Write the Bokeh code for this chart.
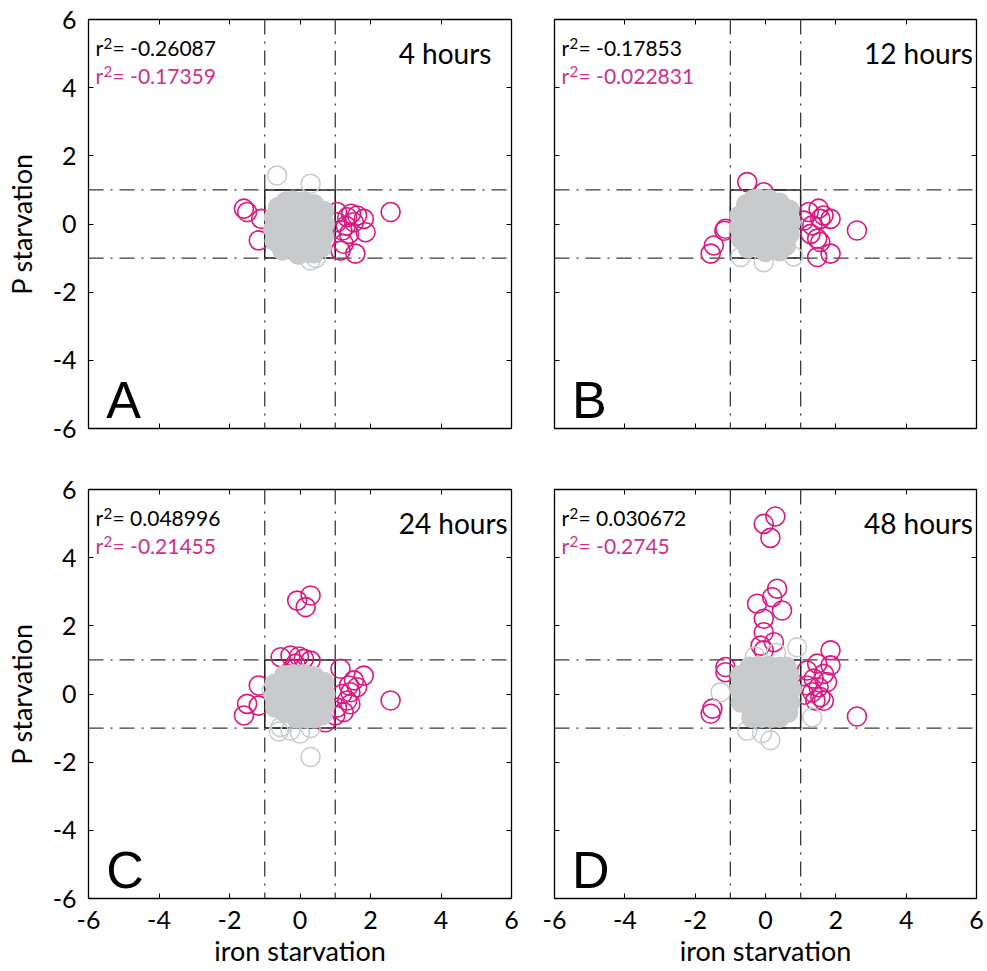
from bokeh.plotting import figure
from bokeh.layouts import column, row
from bokeh.models import LinearAxis, Span, Label, FixedTicker, Range1d
from bokeh.embed import file_html
from bokeh.resources import INLINE

FONT = "Lato"
MAGENTA = "#DA1881"
MAGENTA_TXT = "#C8338C"
GRAY = "#C8CACC"

TICKS = [-6, -4, -2, 0, 2, 4, 6]
LIM = 6
THRESH = 1

panel_letters = ["A", "B", "C", "D"]
hour_labels = ["4 hours", "12 hours", "24 hours", "48 hours"]
r2_all = ["-0.26087", "-0.17853", "0.048996", "0.030672"]
r2_out = ["-0.17359", "-0.022831", "-0.21455", "-0.2745"]

# ---- Panel A (4 h) ----
a_mag_x = [-1.59, -1.50, -1.10, -1.17, 1.05, 1.05, 1.20, 1.30, 1.34, 1.45, 1.53, 1.62, 1.81, 1.86, 1.39, 1.24, 1.15, 1.57, 2.57]
a_mag_y = [0.45, 0.35, 0.15, -0.48, 0.35, 0.05, -0.19, -0.05, 0.20, 0.30, 0.05, 0.25, 0.15, -0.24, -0.29, -0.58, -0.78, -0.87, 0.35]
a_core_x = [-0.74, -0.76, -0.72, -0.62, -0.50, -0.45, -0.45, -0.45, -0.40, -0.20, -0.15, -0.15, -0.15, -0.10, -0.05, 0.10, 0.15, 0.15, 0.15, 0.20, 0.40, 0.45, 0.45, 0.45, 0.40, 0.68, 0.70, 0.68, 0.62]
a_core_y = [0.20, -0.15, -0.50, 0.50, -0.78, 0.38, 0.00, -0.35, 0.66, 0.68, 0.30, -0.05, -0.40, -0.78, -0.90, 0.66, 0.30, -0.05, -0.40, -0.84, 0.58, 0.20, -0.15, -0.50, -0.86, 0.38, 0.00, -0.35, -0.68]
a_gout_x = [-0.65, 0.30, 0.30, 0.45]
a_gout_y = [1.42, 1.18, -1.07, -1.00]

# ---- Panel B (12 h) ----
b_mag_x = [-0.52, -0.05, -1.14, -1.17, -1.47, -1.56, 1.09, 1.23, 1.51, 1.65, 1.85, 1.56, 1.33, 1.28, 1.47, 1.56, 1.47, 1.85, 2.60]
b_mag_y = [1.23, 0.93, -0.14, -0.20, -0.63, -0.87, 0.10, 0.35, 0.45, 0.25, 0.15, 0.15, -0.04, -0.29, -0.43, -0.53, -0.97, -0.87, -0.19]
b_core_x = [-0.74, -0.76, -0.70, -0.55, -0.50, -0.45, -0.45, -0.42, -0.35, -0.20, -0.15, -0.15, -0.12, -0.10, 0.00, 0.10, 0.15, 0.15, 0.18, 0.20, 0.40, 0.45, 0.45, 0.45, 0.40, 0.68, 0.72, 0.68, 0.58]
b_core_y = [0.25, -0.10, -0.45, 0.58, -0.72, 0.42, 0.05, -0.30, 0.72, 0.74, 0.35, 0.00, -0.35, -0.68, -0.82, 0.72, 0.35, 0.00, -0.35, -0.75, 0.62, 0.25, -0.10, -0.45, -0.80, 0.42, 0.05, -0.30, -0.64]
b_gout_x = [-0.05, -0.71, 0.80]
b_gout_y = [-1.12, -0.97, -0.95]

# ---- Panel C (24 h) ----
c_mag_x = [-0.08, 0.30, 0.16, -0.55, -0.27, -0.03, 0.11, 0.30, -0.13, -0.22, -1.17, -1.50, -1.59, -1.17, 1.15, 1.81, 1.53, 1.39, 1.62, 1.43, 1.20, 1.34, 1.43, 1.24, 1.00, 1.05, 0.72, 2.57]
c_mag_y = [2.74, 2.89, 2.55, 1.08, 1.13, 1.10, 1.03, 0.98, 0.89, 0.74, 0.25, -0.29, -0.63, -0.34, 0.74, 0.54, 0.40, 0.25, 0.20, 0.05, 0.00, -0.19, -0.30, -0.53, -0.63, -0.40, -0.83, -0.19]
c_core_x = [-0.72, -0.74, -0.70, -0.45, -0.45, -0.45, -0.42, -0.20, -0.15, -0.15, -0.12, -0.10, 0.10, 0.15, 0.15, 0.18, 0.20, 0.40, 0.45, 0.45, 0.45, 0.40, 0.68, 0.72, 0.70, 0.64]
c_core_y = [0.30, -0.05, -0.40, 0.55, 0.15, -0.20, -0.55, 0.58, 0.25, -0.10, -0.45, -0.72, 0.58, 0.25, -0.10, -0.45, -0.72, 0.52, 0.15, -0.20, -0.55, -0.72, 0.35, 0.00, -0.35, -0.62]
c_gout_x = [0.30, -0.55, -0.60, -0.27, 0.00, 0.30, -0.80]
c_gout_y = [-1.85, -0.97, -1.10, -1.07, -1.16, -1.00, 0.10]

# ---- Panel D (48 h) ----
d_mag_x = [-0.05, 0.28, 0.14, 0.33, 0.19, -0.24, 0.47, -0.05, -0.05, 0.24, -0.14, -0.05, -1.14, -1.14, -1.51, -1.56, 1.85, 1.47, 1.85, 1.18, 1.66, 1.37, 1.75, 1.18, 1.51, 1.33, 1.56, 1.66, 1.42, 1.10, 2.60, -0.14]
d_mag_y = [4.99, 5.21, 4.58, 3.09, 2.84, 2.65, 2.45, 2.21, 1.81, 1.52, 1.42, 1.28, 0.79, 0.64, -0.43, -0.58, 1.28, 0.89, 0.84, 0.69, 0.59, 0.45, 0.35, 0.25, 0.20, 0.05, -0.09, -0.20, -0.19, -0.02, -0.66, -0.58]
d_core_x = [-0.72, -0.74, -0.70, -0.45, -0.45, -0.45, -0.42, -0.40, -0.20, -0.15, -0.15, -0.12, -0.10, 0.10, 0.15, 0.15, 0.18, 0.20, 0.40, 0.45, 0.45, 0.45, 0.40, 0.68, 0.74, 0.70, 0.64, 0.60]
d_core_y = [0.55, 0.15, -0.25, 0.80, 0.40, 0.00, -0.40, -0.70, 0.82, 0.45, 0.05, -0.35, -0.70, 0.82, 0.45, 0.05, -0.35, -0.70, 0.80, 0.40, 0.00, -0.40, -0.70, 0.55, 0.15, -0.25, -0.55, 0.80]
d_gout_x = [0.14, -0.52, -0.10, 1.33, -1.28, 0.90, 0.30, -0.30]
d_gout_y = [-1.36, -1.08, -1.15, -0.68, 0.05, 1.37, 1.20, 1.10]

panels = [
    (a_mag_x, a_mag_y, a_core_x, a_core_y, a_gout_x, a_gout_y),
    (b_mag_x, b_mag_y, b_core_x, b_core_y, b_gout_x, b_gout_y),
    (c_mag_x, c_mag_y, c_core_x, c_core_y, c_gout_x, c_gout_y),
    (d_mag_x, d_mag_y, d_core_x, d_core_y, d_gout_x, d_gout_y),
]


def style_axis(ax, show_labels, standoff=9, label_standoff=4):
    ax.ticker = FixedTicker(ticks=TICKS, minor_ticks=[])
    ax.major_tick_in = 5
    ax.major_tick_out = 0
    ax.major_tick_line_color = "black"
    ax.major_tick_line_width = 1
    ax.minor_tick_line_color = None
    ax.axis_line_color = None
    if show_labels:
        ax.major_label_overrides = {t: str(t) for t in TICKS}
        ax.major_label_text_font = FONT
        ax.major_label_text_font_size = "25px"
        ax.major_label_text_color = "black"
        ax.major_label_standoff = standoff
    else:
        ax.major_label_overrides = {t: "" for t in TICKS}
        ax.major_label_text_font_size = "0px"
        ax.major_label_standoff = 0
    ax.axis_label_text_font = FONT
    ax.axis_label_text_font_size = "27px"
    ax.axis_label_text_font_style = "normal"
    ax.axis_label_text_color = "black"
    ax.axis_label_standoff = label_standoff


def add_r2(p, y, val, color):
    p.add_layout(Label(x=-5.8, y=y, text="r", text_font=FONT,
                       text_font_size="21px", text_color=color))
    p.add_layout(Label(x=-5.8, y=y, x_offset=8, y_offset=11, text="2", text_font=FONT,
                       text_font_size="15px", text_color=color))
    p.add_layout(Label(x=-5.8, y=y, x_offset=17, text="= " + val, text_font=FONT,
                       text_font_size="21px", text_color=color))


def make_panel(i, fw, left, right, top, bottom, xlab, ylab):
    mx, my, cx, cy, gx, gy = panels[i]
    p = figure(width=left + fw + right, height=top + 409 + bottom,
               x_range=Range1d(-LIM, LIM), y_range=Range1d(-LIM, LIM),
               output_backend="svg", toolbar_location=None,
               min_border_left=left, min_border_right=right,
               min_border_top=top, min_border_bottom=bottom)
    p.background_fill_color = "white"
    p.border_fill_color = "white"
    p.outline_line_color = "black"
    p.outline_line_width = 1.3
    p.xgrid.visible = False
    p.ygrid.visible = False

    style_axis(p.xaxis[0], xlab, standoff=12, label_standoff=2)
    style_axis(p.yaxis[0], ylab, standoff=12, label_standoff=12)
    if xlab:
        p.xaxis[0].axis_label = "iron starvation"
    if ylab:
        p.yaxis[0].axis_label = "P starvation"
    ax_r = LinearAxis()
    style_axis(ax_r, False)
    p.add_layout(ax_r, "right")
    ax_t = LinearAxis()
    style_axis(ax_t, False)
    p.add_layout(ax_t, "above")

    for loc in (-THRESH, THRESH):
        for dim in ("height", "width"):
            p.add_layout(Span(location=loc, dimension=dim, line_color="#3a3a3a",
                              line_width=1.3, line_dash="15 7 2 7", level="underlay"))
    p.quad(left=[-THRESH], right=[THRESH], bottom=[-THRESH], top=[THRESH],
           fill_color=None, line_color="#222222", line_width=1.5)

    p.scatter(mx, my, marker="circle", size=19, fill_color=None,
              line_color=MAGENTA, line_width=1.6)
    p.scatter(gx, gy, marker="circle", size=19, fill_color=None,
              line_color=GRAY, line_width=1.5)
    p.scatter(cx, cy, marker="circle", size=19, fill_color=GRAY,
              line_color=GRAY, line_width=1.5)

    add_r2(p, 4.80, r2_all[i], "black")
    add_r2(p, 3.98, r2_out[i], MAGENTA_TXT)
    p.add_layout(Label(x=2.8, y=4.53, text=hour_labels[i], text_font=FONT,
                       text_font_size="28px", text_color="black"))
    p.add_layout(Label(x=-5.5, y=-6.0, text=panel_letters[i], text_font="Liberation Sans",
                       text_font_size="52px", text_color="black"))
    return p


pA = make_panel(0, 423, 88, 12, 19, 30, False, True)
pB = make_panel(1, 422, 31, 10, 19, 30, False, False)
pC = make_panel(2, 423, 88, 12, 31, 73, True, True)
pD = make_panel(3, 422, 31, 10, 31, 73, True, False)

layout = column(row(pA, pB, spacing=0), row(pC, pD, spacing=0), spacing=0)

open("out.html", "w").write(file_html(layout, INLINE))
